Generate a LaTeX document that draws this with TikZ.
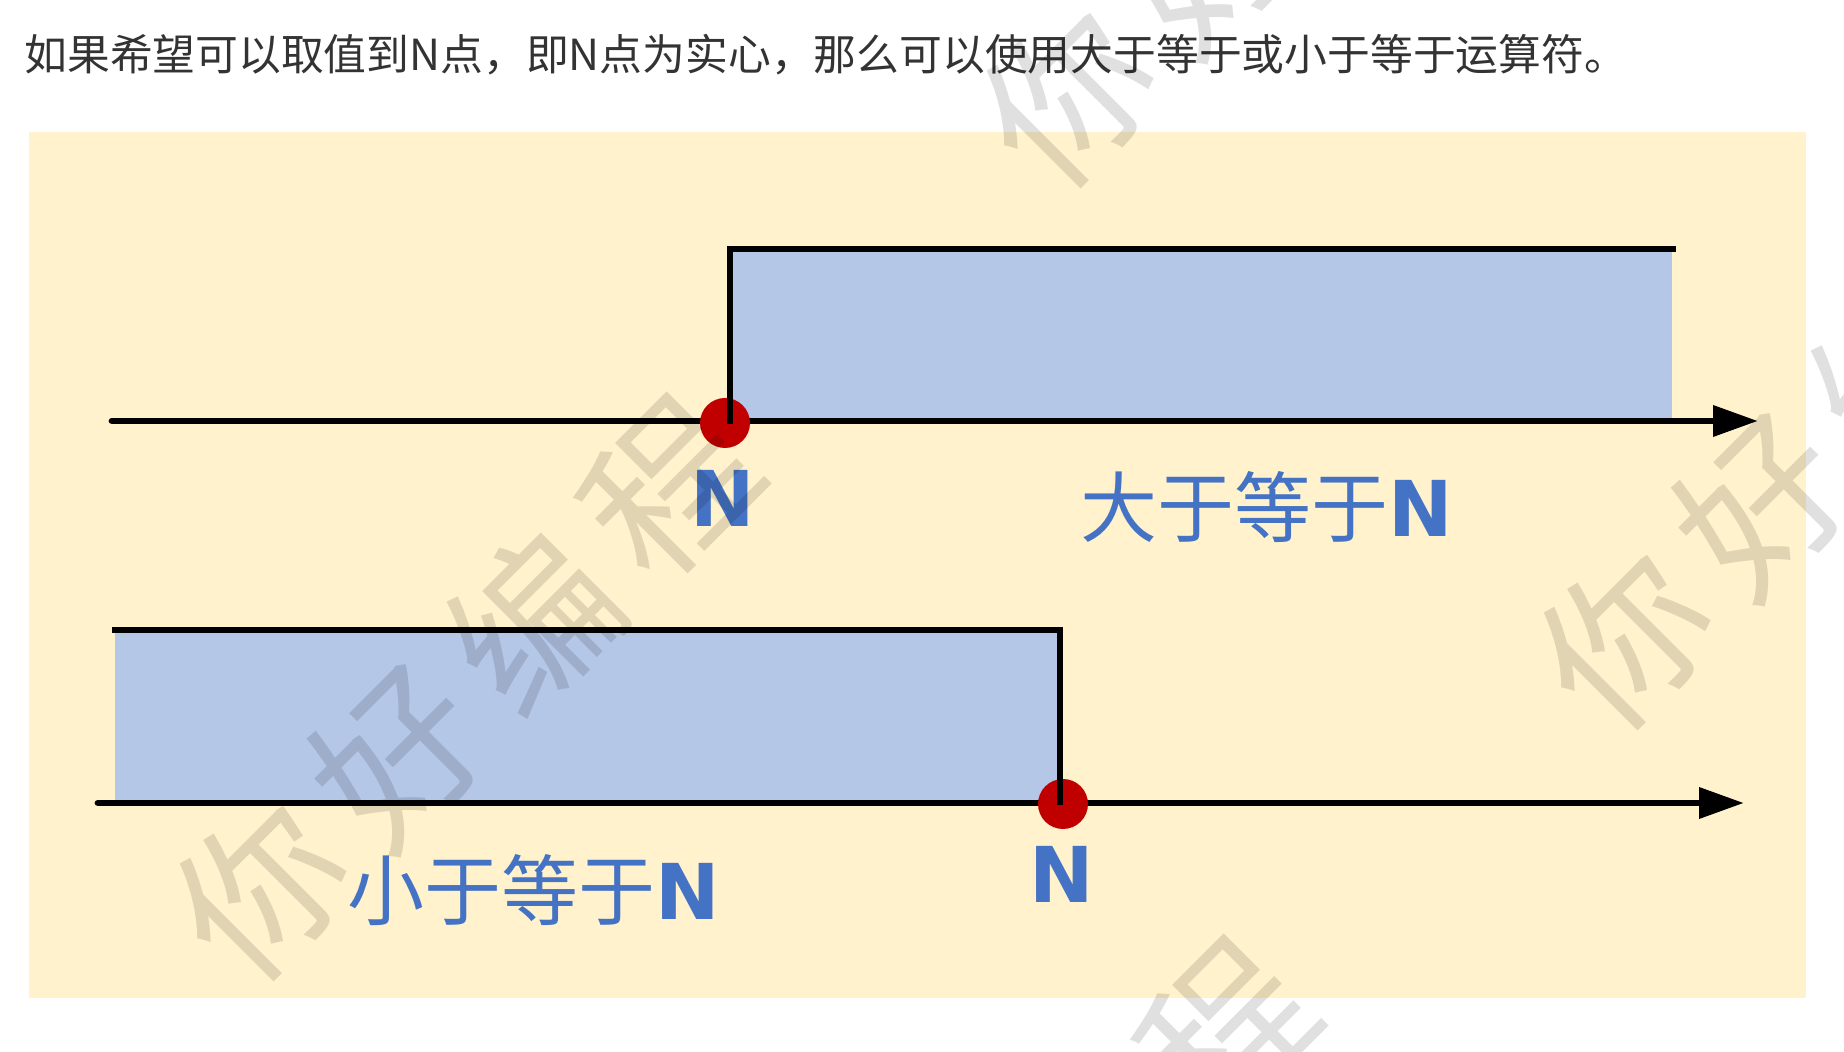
\documentclass[tikz,border=0pt]{standalone}
\usepackage{fontspec}
\newfontfamily\cjkfont{Noto Sans CJK SC}
\newfontfamily\nfont{DejaVu Sans}
\usetikzlibrary{arrows.meta}
\definecolor{bgyellow}{HTML}{FFF2CC}
\definecolor{boxblue}{HTML}{B4C7E7}
\definecolor{dotred}{HTML}{C00000}
\definecolor{lblblue}{HTML}{4472C4}
\definecolor{hdrgray}{HTML}{333333}
\tikzset{
  axisline/.style={line width=3.4pt, line cap=round, -{Triangle[length=22.5pt,width=15pt]}},
  boxedge/.style={line width=3.4pt, line join=miter},
  reddot/.style={circle, fill=dotred, minimum size=25pt, inner sep=0pt},
  lbl/.style={text=lblblue, inner sep=0pt, font=\cjkfont\fontsize{38.5}{40}\selectfont},
  nlbl/.style={text=lblblue, inner sep=0pt, font=\nfont\bfseries\fontsize{38.5}{40}\selectfont},
  wm/.style={text=black, text opacity=0.12, inner sep=0pt, font=\cjkfont\fontsize{82}{82}\selectfont},
}
\begin{document}
\begin{tikzpicture}[x=0.5pt,y=-0.5pt]
\useasboundingbox (0,0) rectangle (1844,1052);
\fill[white] (0,0) rectangle (1844,1052);
% background panel
\fill[bgyellow] (29,132) rectangle (1806,998);
% header
\node[anchor=base west, text=hdrgray, inner sep=0pt, font=\cjkfont\fontsize{21.4}{25}\selectfont] (hdr) at (24,71) {如果希望可以取值到N点，即N点为实心，那么可以使用大于等于或小于等于运算符。};
% coordinates
\coordinate (a1s) at (112,421);
\coordinate (a1e) at (1758,421);
\coordinate (a2s) at (98,803);
\coordinate (a2e) at (1744,803);
\coordinate (b1a) at (730,424);
\coordinate (b1b) at (730,249);
\coordinate (b1c) at (1676,249);
\coordinate (b2a) at (112,630);
\coordinate (b2b) at (1060,630);
\coordinate (b2c) at (1060,805);
% fills
\fill[boxblue] (733,249) rectangle (1672,421);
\fill[boxblue] (115,630) rectangle (1060,803);
% axes
\draw[axisline] (a1s) -- (a1e);
\draw[axisline] (a2s) -- (a2e);
% dots
\node[reddot] (d1) at (725,423) {};
\node[reddot] (d2) at (1063,804) {};
% box outlines
\draw[boxedge] (b1a) -- (b1b) -- (b1c);
\draw[boxedge] (b2a) -- (b2b) -- (b2c);
% labels
\node[nlbl, anchor=base] (n1) at (723,527) {N};
\node[nlbl, anchor=base] (n2) at (1062,903) {N};
\node[lbl, anchor=base west] (ge) at (1080,537) {大于等于{\nfont\bfseries N}};
\node[lbl, anchor=base west] (le) at (347,920) {小于等于{\nfont\bfseries N}};
% watermarks
\foreach \ox/\oy [count=\t] in {261/890, 1068/97, 818/1432, 1625/639} {
  \foreach \ch [count=\k from 0] in {你,好,编,程} {
    \node[wm, rotate=45] (wm-\t-\k) at (\ox+136*\k, \oy-134*\k) {\ch};
  }
}
\end{tikzpicture}
\end{document}
